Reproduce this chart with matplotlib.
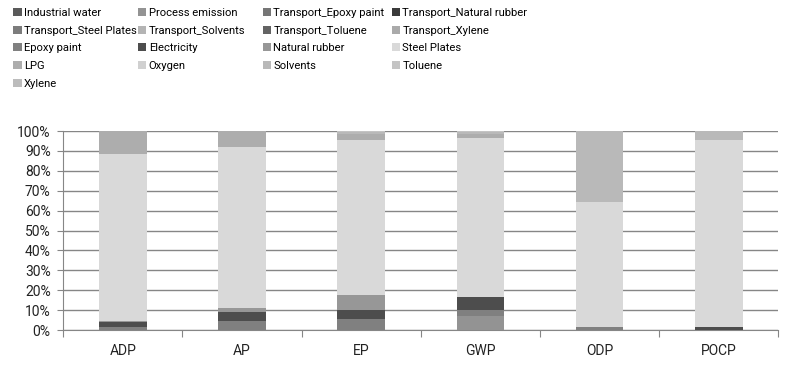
import numpy as np
import matplotlib
matplotlib.use("Agg")
from matplotlib import pyplot as plt

plt.rcParams['font.family'] = ['Roboto', 'DejaVu Sans']

# Impact categories on the x axis
categories = ['ADP', 'AP', 'EP', 'GWP', 'ODP', 'POCP']

# Contribution (%) of each source, per category, bottom to top
industrial_water = [0.0, 0.0, 0.0, 0.0, 0.0, 0.0]
process_emission = [0.0, 0.0, 0.0, 7.2, 0.0, 0.0]
transport_epoxy = [0.0, 0.0, 0.0, 0.0, 0.0, 0.0]
transport_rubber = [0.0, 0.0, 0.0, 0.0, 0.0, 0.0]
transport_steel = [0.0, 0.0, 0.0, 0.0, 0.0, 0.0]
transport_solvents = [0.0, 0.0, 0.0, 0.0, 0.0, 0.0]
transport_toluene = [0.0, 0.0, 0.0, 0.0, 0.0, 0.0]
transport_xylene = [0.0, 0.0, 0.0, 0.0, 0.0, 0.0]
epoxy_paint = [1.5, 4.7, 5.5, 2.8, 1.5, 0.0]
electricity = [2.7, 4.2, 4.5, 6.7, 0.0, 1.5]
natural_rubber = [0.3, 2.1, 7.7, 0.0, 0.0, 0.0]
steel_plates = [84.0, 81.0, 77.9, 80.0, 63.0, 94.0]
lpg = [11.5, 8.0, 2.9, 1.6, 0.0, 0.0]
oxygen = [0.0, 0.0, 0.0, 0.0, 0.0, 0.0]
solvents = [0.0, 0.0, 1.0, 1.0, 35.5, 4.5]
toluene = [0.0, 0.0, 0.5, 0.7, 0.0, 0.0]
xylene = [0.0, 0.0, 0.0, 0.0, 0.0, 0.0]

series = [
    ('Industrial water', industrial_water, '#5a5a5a'),
    ('Process emission', process_emission, '#939393'),
    ('Transport_Epoxy paint', transport_epoxy, '#767676'),
    ('Transport_Natural rubber', transport_rubber, '#3a3a3a'),
    ('Transport_Steel Plates', transport_steel, '#7c7c7c'),
    ('Transport_Solvents', transport_solvents, '#b4b4b4'),
    ('Transport_Toluene', transport_toluene, '#636363'),
    ('Transport_Xylene', transport_xylene, '#aaaaaa'),
    ('Epoxy paint', epoxy_paint, '#808080'),
    ('Electricity', electricity, '#4d4d4d'),
    ('Natural rubber', natural_rubber, '#979797'),
    ('Steel Plates', steel_plates, '#d9d9d9'),
    ('LPG', lpg, '#adadad'),
    ('Oxygen', oxygen, '#d0d0d0'),
    ('Solvents', solvents, '#b9b9b9'),
    ('Toluene', toluene, '#c4c4c4'),
    ('Xylene', xylene, '#bcbcbc'),
]

fig = plt.figure(figsize=(8, 3.66), dpi=100)
ax = fig.add_axes([0.079, 0.098, 0.894, 0.544])

x = np.arange(len(categories))
bottom = np.zeros(len(categories))
handles = []
for name, vals, col in series:
    vals = np.array(vals)
    b = ax.bar(x, vals, 0.4, bottom=bottom, color=col, label=name, zorder=3)
    handles.append(b)
    bottom += vals

ax.set_xlim(-0.5, len(categories) - 0.5)
ax.set_ylim(0, 100)
ax.set_yticks(np.arange(0, 101, 10))
ax.set_yticklabels([f'{v}%' for v in range(0, 101, 10)], fontsize=10, color='#222222')
ax.yaxis.grid(True, color='#868686', linewidth=1.0, zorder=0)

# category labels between boundary ticks, Excel style
ax.set_xticks(np.arange(-0.5, len(categories), 1.0))
ax.set_xticklabels([])
ax.set_xticks(x, minor=True)
ax.set_xticklabels(categories, minor=True, fontsize=10, color='#222222')
ax.tick_params(axis='x', which='major', direction='out', length=5, color='#868686')
ax.tick_params(axis='x', which='minor', length=0, pad=10)
ax.tick_params(axis='y', direction='out', length=4, color='#868686', pad=5)

for s in ['top', 'right']:
    ax.spines[s].set_visible(False)
ax.spines['left'].set_color('#868686')
ax.spines['bottom'].set_color('#868686')

# legend in four evenly spaced columns, filled row by row
col_x = [0.008, 0.164, 0.320, 0.481]
for c in range(4):
    idx = list(range(c, len(series), 4))
    fig.legend([handles[i] for i in idx], [series[i][0] for i in idx],
               loc='upper left', bbox_to_anchor=(col_x[c], 0.997), ncol=1,
               frameon=False, fontsize=8.1, handlelength=0.75, handleheight=0.75,
               handletextpad=0.2, labelspacing=0.68, borderaxespad=0.2)

fig.savefig('out.png', dpi=100)
